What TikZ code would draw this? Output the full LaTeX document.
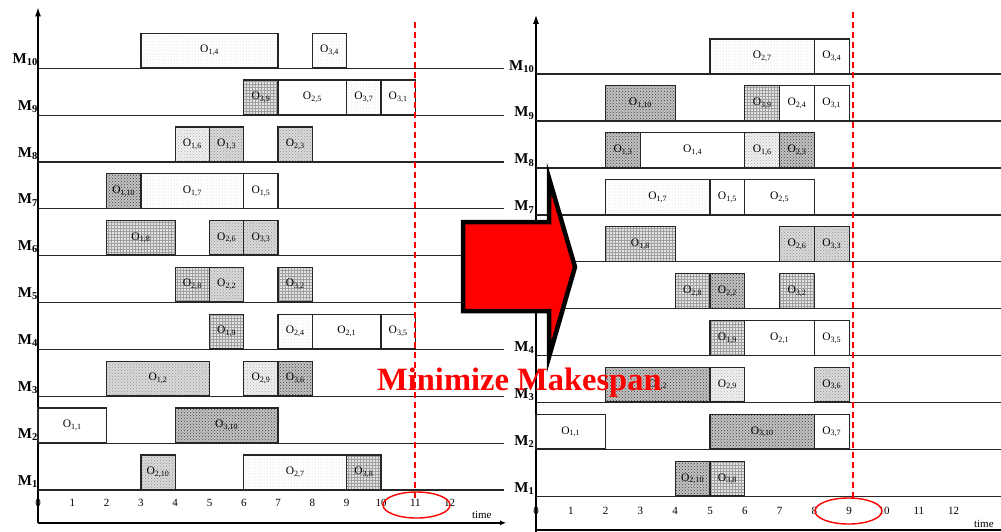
\documentclass[tikz,border=0pt]{standalone}
\usepackage{fontspec}
\setmainfont{Liberation Serif}
\usepackage{tikz}
\usetikzlibrary{arrows.meta,patterns,shapes.geometric}

\begin{document}
\begin{tikzpicture}[x=1pt, y=-1pt,
  op/.style={rectangle, draw=black!85, line width=1.3pt, anchor=south, inner sep=0pt,
             minimum height=34.5pt, font=\fontsize{11.5}{11.5}\selectfont},
  opw/.style={op, fill=white},
  opdot/.style={op, preaction={fill=white}, pattern=dots, pattern color=gray!40},
  oplight/.style={op, preaction={fill=gray!12}, pattern=crosshatch dots, pattern color=gray!60},
  opgrid/.style={op, preaction={fill=gray!22}, pattern=grid, pattern color=gray!75},
  opspk/.style={op, preaction={fill=gray!30}, pattern=crosshatch dots, pattern color=gray!85},
  opdark/.style={op, preaction={fill=gray!48}, pattern=crosshatch dots, pattern color=black!75},
  mach/.style={font=\fontsize{15}{15}\selectfont\bfseries, anchor=base east, inner sep=0pt},
  tick/.style={font=\fontsize{11}{11}\selectfont, inner sep=0pt},
  rowline/.style={black!85, line width=1.2pt},
  axis/.style={black, line width=1.3pt},
  mkline/.style={red, line width=1.8pt, dash pattern=on 6pt off 4pt},
  mkring/.style={ellipse, draw=red, line width=1.4pt, minimum width=67pt,
                 minimum height=26pt, inner sep=0pt},
  bigarrow/.style={fill=red, draw=black, line width=4.5pt, line join=miter},
]
\useasboundingbox (0,0) rectangle (1001,531);

% before: makespan 11
\begin{scope}[shift={(38,536.9)}, x=34.3pt, y=46.86pt, tw/.style={minimum width=#1*34.3pt}]
  \draw[axis, -{Latex[length=9pt,width=6pt]}] (0,0.3) -- (0,11.3);
  \draw[axis, -{Latex[length=6pt,width=5pt]}] (0,0.3) -- (13.65,0.3);
  \foreach \k in {1,...,10}
    \draw[rowline] (0,\k) -- (13.6,\k);
  \foreach \k in {1,...,10}
    \node[mach] (lm\k) at (0,\k) [yshift=5pt] {M\textsubscript{\k}};
  \foreach \n in {0,...,12}
    \node[tick] (lt\n) at (\n,1) [yshift=-13pt] {\n};
  \node[tick, anchor=base] (ltime) at (12.94,0.3) [yshift=4pt] {time};

  \node[opdot, tw=4] (L14) at (5,10) {O\textsubscript{1,4}};
  \node[opdot, tw=1] (L34) at (8.5,10) {O\textsubscript{3,4}};
  \node[opgrid, tw=1] (L39) at (6.5,9) {O\textsubscript{3,9}};
  \node[opw, tw=2] (L25) at (8,9) {O\textsubscript{2,5}};
  \node[opdot, tw=1] (L37) at (9.5,9) {O\textsubscript{3,7}};
  \node[opw, tw=1] (L31) at (10.5,9) {O\textsubscript{3,1}};
  \node[oplight, tw=1] (L16) at (4.5,8) {O\textsubscript{1,6}};
  \node[opspk, tw=1] (L13) at (5.5,8) {O\textsubscript{1,3}};
  \node[opspk, tw=1] (L23) at (7.5,8) {O\textsubscript{2,3}};
  \node[opdark, tw=1] (L110) at (2.5,7) {O\textsubscript{1,10}};
  \node[opdot, tw=3] (L17) at (4.5,7) {O\textsubscript{1,7}};
  \node[opw, tw=1] (L15) at (6.5,7) {O\textsubscript{1,5}};
  \node[opgrid, tw=2] (L18) at (3,6) {O\textsubscript{1,8}};
  \node[opspk, tw=1] (L26) at (5.5,6) {O\textsubscript{2,6}};
  \node[opspk, tw=1] (L33) at (6.5,6) {O\textsubscript{3,3}};
  \node[opgrid, tw=1] (L28) at (4.5,5) {O\textsubscript{2,8}};
  \node[opspk, tw=1] (L22) at (5.5,5) {O\textsubscript{2,2}};
  \node[opgrid, tw=1] (L32) at (7.5,5) {O\textsubscript{3,2}};
  \node[opgrid, tw=1] (L19) at (5.5,4) {O\textsubscript{1,9}};
  \node[opdot, tw=1] (L24) at (7.5,4) {O\textsubscript{2,4}};
  \node[opw, tw=2] (L21) at (9,4) {O\textsubscript{2,1}};
  \node[opw, tw=1] (L35) at (10.5,4) {O\textsubscript{3,5}};
  \node[opspk, tw=3] (L12) at (3.5,3) {O\textsubscript{1,2}};
  \node[oplight, tw=1] (L29) at (6.5,3) {O\textsubscript{2,9}};
  \node[opdark, tw=1] (L36) at (7.5,3) {O\textsubscript{3,6}};
  \node[opw, tw=2] (L11) at (1,2) {O\textsubscript{1,1}};
  \node[opdark, tw=3] (L310) at (5.5,2) {O\textsubscript{3,10}};
  \node[opspk, tw=1] (L210) at (3.5,1) {O\textsubscript{2,10}};
  \node[opdot, tw=3] (L27) at (7.5,1) {O\textsubscript{2,7}};
  \node[opgrid, tw=1] (L38) at (9.5,1) {O\textsubscript{3,8}};
\end{scope}

% after: makespan 9
\begin{scope}[shift={(536,543.7)}, x=34.8pt, y=46.97pt, tw/.style={minimum width=#1*34.8pt}]
  \draw[axis, -{Latex[length=9pt,width=6pt]}] (0,0.1) -- (0,11.26);
  \draw[axis] (0,0.29) -- (13.5,0.29);
  \foreach \k in {1,...,10}
    \draw[rowline] (0,\k) -- (13.5,\k);
  \foreach \k in {1,2,3,4,7,8,9,10}
    \node[mach] (rm\k) at (0,\k) [xshift=-1.5pt, yshift=4pt] {M\textsubscript{\k}};
  \foreach \n in {0,...,12}
    \node[tick] (rt\n) at (\n,1) [yshift=-14pt] {\n};
  \node[tick, anchor=base] (rtime) at (12.87,0.29) [yshift=3pt] {time};

  \node[opdot, tw=3] (R27) at (6.5,10) {O\textsubscript{2,7}};
  \node[opw, tw=1] (R34) at (8.5,10) {O\textsubscript{3,4}};
  \node[opdark, tw=2] (R110) at (3,9) {O\textsubscript{1,10}};
  \node[opgrid, tw=1] (R39) at (6.5,9) {O\textsubscript{3,9}};
  \node[opw, tw=1] (R24) at (7.5,9) {O\textsubscript{2,4}};
  \node[opw, tw=1] (R31) at (8.5,9) {O\textsubscript{3,1}};
  \node[opdark, tw=1] (R13) at (2.5,8) {O\textsubscript{1,3}};
  \node[opw, tw=3] (R14) at (4.5,8) {O\textsubscript{1,4}};
  \node[oplight, tw=1] (R16) at (6.5,8) {O\textsubscript{1,6}};
  \node[opdark, tw=1] (R23) at (7.5,8) {O\textsubscript{2,3}};
  \node[opdot, tw=3] (R17) at (3.5,7) {O\textsubscript{1,7}};
  \node[opw, tw=1] (R15) at (5.5,7) {O\textsubscript{1,5}};
  \node[opw, tw=2] (R25) at (7,7) {O\textsubscript{2,5}};
  \node[opgrid, tw=2] (R18) at (3,6) {O\textsubscript{1,8}};
  \node[opspk, tw=1] (R26) at (7.5,6) {O\textsubscript{2,6}};
  \node[opspk, tw=1] (R33) at (8.5,6) {O\textsubscript{3,3}};
  \node[opgrid, tw=1] (R28) at (4.5,5) {O\textsubscript{2,8}};
  \node[opdark, tw=1] (R22) at (5.5,5) {O\textsubscript{2,2}};
  \node[opgrid, tw=1] (R32) at (7.5,5) {O\textsubscript{3,2}};
  \node[opgrid, tw=1] (R19) at (5.5,4) {O\textsubscript{1,9}};
  \node[opw, tw=2] (R21) at (7,4) {O\textsubscript{2,1}};
  \node[opw, tw=1] (R35) at (8.5,4) {O\textsubscript{3,5}};
  \node[opdark, tw=3] (R12) at (3.5,3) {O\textsubscript{1,2}};
  \node[oplight, tw=1] (R29) at (5.5,3) {O\textsubscript{2,9}};
  \node[opspk, tw=1] (R36) at (8.5,3) {O\textsubscript{3,6}};
  \node[opw, tw=2] (R11) at (1,2) {O\textsubscript{1,1}};
  \node[opdark, tw=3] (R310) at (6.5,2) {O\textsubscript{3,10}};
  \node[opw, tw=1] (R37) at (8.5,2) {O\textsubscript{3,7}};
  \node[opdark, tw=1] (R210) at (4.5,1) {O\textsubscript{2,10}};
  \node[opgrid, tw=1] (R38) at (5.5,1) {O\textsubscript{3,8}};
\end{scope}

% makespan marks
\node[mkring] (ringL) at (416.5,505) {};
\node[mkring] (ringR) at (848.5,511) {};
\coordinate (capL) at (415,22);
\coordinate (footL) at (415,499);
\coordinate (capR) at (853,12);
\coordinate (footR) at (853,501);
\draw[mkline] (capL) -- (footL);
\draw[mkline] (capR) -- (footR);

\draw[bigarrow] (463,222) -- (549,222) -- (549,178) -- (575,267) -- (549,357)
  -- (549,311) -- (463,311) -- cycle;
\node[font=\fontsize{32.5}{32.5}\selectfont\bfseries, text=red, anchor=base west,
      inner sep=0pt] (goal) at (377,390) {Minimize Makespan};
\end{tikzpicture}
\end{document}
